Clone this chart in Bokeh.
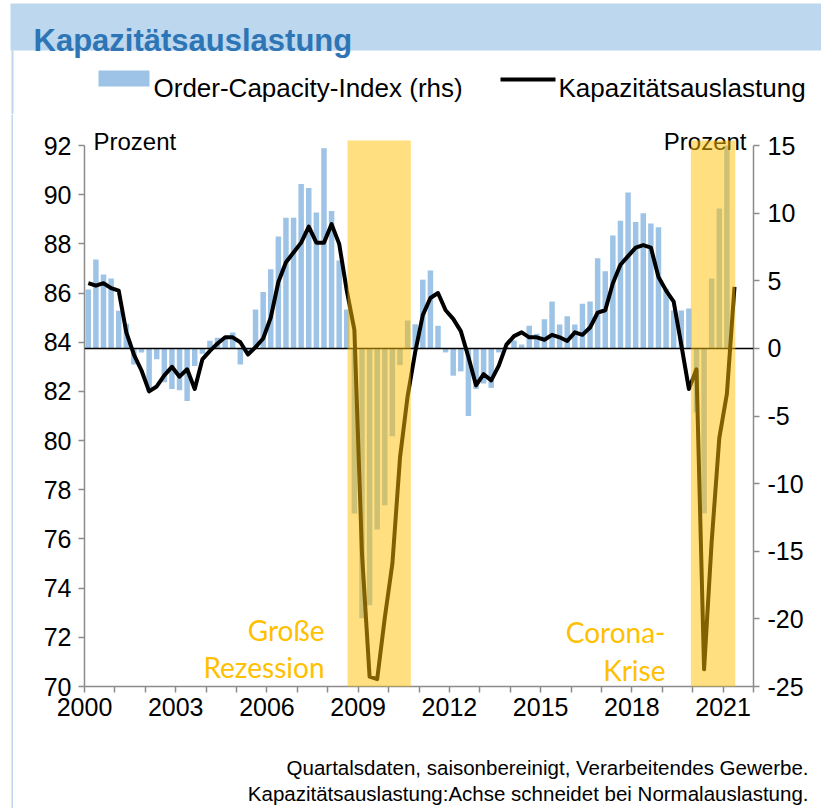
from bokeh.plotting import figure
from bokeh.models import Range1d, LinearAxis, FixedTicker, Span, BoxAnnotation, Label
from bokeh.layouts import column, row
from bokeh.embed import file_html
from bokeh.resources import INLINE

# ---------------- data ----------------
start_year = 2000
# Order-Capacity-Index (rhs), quarterly from 2000Q1
order_capacity = [
    4.35, 6.57, 5.46, 5.17, 2.78, 1.82, -1.2, -0.3, -3.2, -0.8,
    -2.5, -3.0, -3.1, -3.9, -1.3, -0.4, 0.57, 0.78, 0.75, 1.17,
    -1.2, -0.2, 2.87, 4.17, 5.85, 8.27, 9.66, 9.66, 12.16, 11.86,
    10.05, 14.8, 10.15, 6.5, 2.87, -12.2, -19.95, -19.0, -13.4, -11.6,
    -6.5, -1.24, 2.06, 1.78, 5.08, 5.76, 1.67, -0.3, -2.02, -1.7,
    -5.0, -3.0, -2.6, -2.92, -0.3, 0.1, 0.58, 0.29, 1.67, 1.08,
    2.15, 3.46, 1.77, 2.37, 1.77, 3.3, 3.47, 6.67, 5.7, 8.35,
    9.44, 11.53, 9.35, 10.0, 9.24, 8.95, 4.4, 2.8, 2.8, 2.95,
    -4.73, -12.2, 5.17, 10.34, 15.0,
]
# Kapazitätsauslastung (lhs, Prozent), quarterly from 2000Q1
utilization = [
    86.4, 86.3, 86.4, 86.2, 86.1, 84.4, 83.5, 82.85, 82.0, 82.2,
    82.65, 83.0, 82.6, 82.9, 82.1, 83.3, 83.65, 83.95, 84.2, 84.2,
    84.0, 83.5, 83.8, 84.15, 85.0, 86.45, 87.25, 87.65, 88.05, 88.7,
    88.05, 88.05, 88.8, 88.0, 86.1, 84.5, 75.4, 70.4, 70.3, 72.8,
    75.0, 79.3, 81.8, 83.6, 85.1, 85.8, 86.0, 85.3, 84.95, 84.45,
    83.4, 82.25, 82.7, 82.45, 83.05, 83.9, 84.25, 84.4, 84.2, 84.2,
    84.1, 84.3, 84.2, 84.05, 84.4, 84.3, 84.6, 85.2, 85.3, 86.4,
    87.15, 87.5, 87.85, 87.95, 87.85, 86.65, 86.1, 85.65, 83.9, 82.1,
    82.9, 70.7, 75.9, 80.1, 81.9, 86.25,
]
# crisis periods (decimal years)
crisis_start = [2008.65, 2019.94]
crisis_end = [2010.73, 2021.40]
crisis_names = [["Große", "Rezession"], ["Corona-", "Krise"]]

x_tick_years = list(range(2000, 2023))
x_label_years = [2000, 2003, 2006, 2009, 2012, 2015, 2018, 2021]
left_ticks = [70, 72, 74, 76, 78, 80, 82, 84, 86, 88, 90, 92]
right_ticks = [-25, -20, -15, -10, -5, 0, 5, 10, 15]

xq_bars = [start_year + (i + 0.5) / 4 for i in range(len(order_capacity))]
xq_line = [start_year + (i + 0.5) / 4 for i in range(len(utilization))]

# ---------------- layout constants (page pixels) ----------------
PAGE_W, PAGE_H = 821, 808
HEAD_H = 114          # header strip height
STRIP_W = 13          # left border strip width
FOOT_H = 73           # footer height
FR_L, FR_R, FR_T, FR_B = 84, 753, HEAD_H, 686   # frame of main plot (page coords)
X0, X1 = 2000, 2022
L0, L1 = 70, 92       # left axis bounds
R0, R1 = -25, 15      # right axis bounds
Y92_PX = 145          # pixel of left 92 / right 15
FONT = "Liberation Sans"
BAND = "#BDD7EE"
BLUE = "#9DC3E6"
GOLD = "#FFC000"

lpp = (L1 - L0) / (FR_B - Y92_PX)   # left units per pixel
rpp = (R1 - R0) / (FR_B - Y92_PX)   # right units per pixel


def mx(px):
    return X0 + (px - FR_L) * (X1 - X0) / (FR_R - FR_L)


def my(py):
    return L0 + (FR_B - py) * lpp


def blank_fig(w, h, xr, yr):
    f = figure(width=w, height=h, x_range=Range1d(*xr), y_range=Range1d(*yr),
               x_axis_type=None, y_axis_type=None, output_backend="svg",
               toolbar_location=None, min_border=0)
    f.outline_line_color = None
    f.xgrid.visible = False
    f.ygrid.visible = False
    f.background_fill_color = "white"
    f.border_fill_color = "white"
    f.frame_align = False
    return f


# ---------------- header ----------------
head = blank_fig(PAGE_W, HEAD_H, (0, PAGE_W), (HEAD_H, 0))
head.quad(left=[10], right=[PAGE_W], top=[3], bottom=[50], fill_color=BAND, line_color=None)
head.quad(left=[11], right=[13], top=[50], bottom=[HEAD_H], fill_color=BAND, line_color=None)
head.add_layout(Label(x=33, y=40, text="Kapazitätsauslastung", text_font=FONT,
                      text_font_size="31px", text_font_style="bold", text_color="#2E75B6",
                      text_baseline="alphabetic"))
head.quad(left=[98], right=[149], top=[70], bottom=[86], fill_color=BLUE, line_color=None)
head.add_layout(Label(x=153, y=87, text="Order-Capacity-Index (rhs)", text_font=FONT,
                      text_font_size="26px", text_color="black", text_baseline="alphabetic"))
head.quad(left=[500], right=[555], top=[77], bottom=[81], fill_color="black", line_color=None)
head.add_layout(Label(x=558, y=87, text="Kapazitätsauslastung", text_font=FONT,
                      text_font_size="26px", text_color="black", text_baseline="alphabetic"))

# ---------------- left strip ----------------
strip = blank_fig(STRIP_W, PAGE_H - HEAD_H, (0, STRIP_W), (PAGE_H, HEAD_H))
strip.quad(left=[11], right=[13], top=[HEAD_H], bottom=[PAGE_H], fill_color=BAND, line_color=None)

# ---------------- main plot ----------------
MAIN_W = PAGE_W - STRIP_W
MAIN_H = PAGE_H - HEAD_H - FOOT_H
p = figure(width=MAIN_W, height=MAIN_H,
           x_range=Range1d(X0, X1),
           y_range=Range1d(L0, my(FR_T)),
           output_backend="svg", toolbar_location=None,
           min_border_left=FR_L - STRIP_W, min_border_right=PAGE_W - FR_R,
           min_border_top=0, min_border_bottom=MAIN_H - (FR_B - FR_T))
p.frame_align = False
p.outline_line_color = None
p.xgrid.visible = False
p.ygrid.visible = False
p.background_fill_color = "white"
p.border_fill_color = "white"
p.extra_y_ranges = {"rhs": Range1d(R0, R0 + (FR_B - FR_T) * rpp)}

raxis = LinearAxis(y_range_name="rhs")
p.add_layout(raxis, "right")

AX = "#8C8C8C"
for ax in [p.xaxis[0], p.yaxis[0], raxis]:
    ax.axis_line_color = AX
    ax.axis_line_width = 1.5
    ax.major_tick_line_color = AX
    ax.major_tick_line_width = 1.5
    ax.major_tick_in = 0
    ax.major_tick_out = 6
    ax.minor_tick_line_color = None
    ax.major_label_text_font = FONT
    ax.major_label_text_font_size = "25px"
    ax.major_label_text_color = "black"

p.xaxis[0].ticker = FixedTicker(ticks=x_tick_years)
p.xaxis[0].major_label_overrides = {y: (str(y) if y in x_label_years else "") for y in x_tick_years}
p.xaxis[0].major_label_standoff = 5
p.yaxis[0].ticker = FixedTicker(ticks=left_ticks)
p.yaxis[0].bounds = (L0, L1)
p.yaxis[0].major_label_standoff = 7
raxis.ticker = FixedTicker(ticks=right_ticks)
raxis.bounds = (R0, R1)
raxis.major_label_overrides = {v: str(v) for v in right_ticks}
raxis.major_label_standoff = 8

# bars
p.vbar(x=xq_bars, top=order_capacity, bottom=0, width=0.18, y_range_name="rhs",
       fill_color=BLUE, line_color=None)
# zero line (secondary category axis)
p.add_layout(Span(location=0, dimension="width", y_range_name="rhs",
                  line_color="black", line_width=1.5))
# capacity utilisation line
p.line(x=xq_line, y=utilization, line_color="black", line_width=4, line_join="round")

# crisis shading
for s, e in zip(crisis_start, crisis_end):
    p.add_layout(BoxAnnotation(left=s, right=e, bottom=69.9, top=my(140),
                               fill_color=GOLD, fill_alpha=0.5,
                               line_color=None, level="overlay"))

# crisis labels
lab_pos = [(324, 629, 666.5), (665, 631.5, 669.5)]
for names, (px, py1, py2) in zip(crisis_names, lab_pos):
    for t, py in zip(names, [py1, py2]):
        p.add_layout(Label(x=mx(px), y=my(py), text=t, text_align="right",
                           text_baseline="alphabetic", text_font="Lato",
                           text_font_size="28px", text_color=GOLD))

# axis unit labels
p.add_layout(Label(x=mx(93), y=my(141), text="Prozent", text_font=FONT,
                   text_font_size="24px", text_color="black", text_baseline="alphabetic"))
p.add_layout(Label(x=mx(746), y=my(141), text="Prozent", text_font=FONT, text_align="right",
                   text_font_size="24px", text_color="black", text_baseline="alphabetic"))

# ---------------- footer ----------------
foot = blank_fig(MAIN_W, FOOT_H, (STRIP_W, PAGE_W), (PAGE_H, PAGE_H - FOOT_H))
foot.add_layout(Label(x=808, y=767, text="Quartalsdaten, saisonbereinigt, Verarbeitendes Gewerbe.",
                      text_font=FONT, text_font_size="20.5px", text_color="black",
                      text_align="right", text_baseline="alphabetic"))
foot.add_layout(Label(x=808, y=793, text="Kapazitätsauslastung:Achse schneidet bei Normalauslastung.",
                      text_font=FONT, text_font_size="20.5px", text_color="black",
                      text_align="right", text_baseline="alphabetic"))

layout = column(head, row(strip, column(p, foot, spacing=0), spacing=0), spacing=0)
open("out.html", "w").write(file_html(layout, INLINE))
